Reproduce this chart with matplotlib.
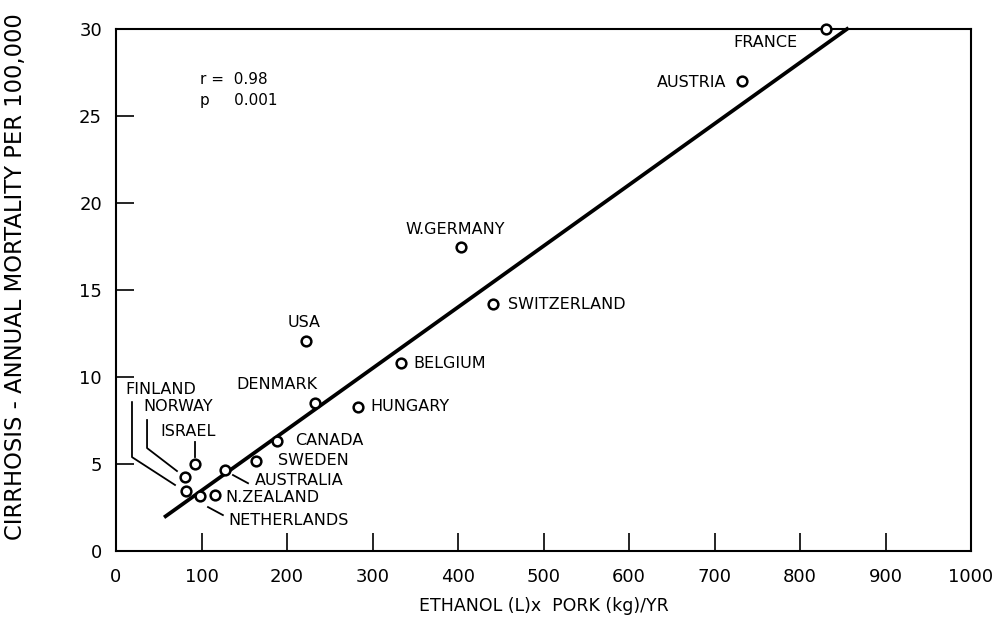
import numpy as np
import matplotlib
matplotlib.use('Agg')
import matplotlib.pyplot as plt

plt.rcParams['font.family'] = ['DejaVu Sans']

# Données
countries = ['FRANCE', 'AUSTRIA', 'W.GERMANY', 'SWITZERLAND', 'USA', 'BELGIUM',
             'DENMARK', 'HUNGARY', 'CANADA', 'SWEDEN', 'AUSTRALIA', 'ISRAEL',
             'NORWAY', 'FINLAND', 'NETHERLANDS', 'N.ZEALAND']
ethanol_pork = [830, 732, 403, 441, 222, 333, 233, 283, 188, 164, 127, 92,
                81, 82, 98, 116]
mortality = [30.0, 27.0, 17.5, 14.2, 12.1, 10.8, 8.5, 8.3, 6.3, 5.2, 4.65, 5.0,
             4.25, 3.45, 3.15, 3.2]

# Droite de régression
fit_x = [58, 855]
fit_y = [2.0, 30.0]

x_ticks = [0, 100, 200, 300, 400, 500, 600, 700, 800, 900, 1000]
y_ticks = [0, 5, 10, 15, 20, 25, 30]

# Position des étiquettes (coin gauche, centre vertical)
label_pos = {
    'FRANCE': (722, 29.25), 'AUSTRIA': (633, 26.95), 'W.GERMANY': (338, 18.5),
    'SWITZERLAND': (458, 14.15), 'USA': (201, 13.15), 'BELGIUM': (348, 10.8),
    'DENMARK': (141, 9.55), 'HUNGARY': (297, 8.28), 'CANADA': (210, 6.38),
    'SWEDEN': (189, 5.23), 'AUSTRALIA': (162, 4.08), 'N.ZEALAND': (128, 3.1),
    'NETHERLANDS': (131, 1.78), 'FINLAND': (11, 9.31), 'NORWAY': (32, 8.28),
    'ISRAEL': (52, 6.9),
}

# Traits de rappel
leaders = [
    ([18.7, 18.7, 69], [8.56, 5.4, 3.8]),
    ([36.3, 36.3, 71.3], [7.53, 5.92, 4.6]),
    ([92.4, 92.4], [6.26, 5.4]),
    ([136.8, 154.4], [4.37, 3.9]),
    ([107.6, 125], [2.53, 2.07]),
]

fig = plt.figure(figsize=(9.94, 6.22), dpi=100)
ax = fig.add_axes([0.1167, 0.114, 0.8602, 0.8394])

ax.plot(fit_x, fit_y, color='black', linewidth=2.7, clip_on=False, zorder=2)
ax.plot(ethanol_pork, mortality, linestyle='none', marker='o', markersize=7,
        markerfacecolor='white', markeredgecolor='black', markeredgewidth=1.8,
        clip_on=False, zorder=3)

for lx, ly in leaders:
    ax.plot(lx, ly, color='black', linewidth=1.3, zorder=1)

for name in countries:
    tx, ty = label_pos[name]
    ax.text(tx, ty, name, ha='left', va='center', fontsize=11.5)

ax.text(98, 27.07, 'r =  0.98', ha='left', va='center', fontsize=11)
ax.text(98, 25.9, 'p     0.001', ha='left', va='center', fontsize=11)

ax.set_xlim(0, 1000)
ax.set_ylim(0, 30)
ax.set_xticks(x_ticks)
ax.set_yticks(y_ticks)
ax.tick_params(axis='both', direction='in', length=13, width=1.2,
               labelsize=13)
ax.tick_params(axis='x', top=False, pad=12)
ax.tick_params(axis='y', right=False, pad=10)
for s in ax.spines.values():
    s.set_linewidth(1.5)

ax.set_xlabel('ETHANOL (L)x  PORK (kg)/YR', fontsize=12.5, labelpad=8)
ax.set_ylabel('CIRRHOSIS - ANNUAL MORTALITY PER 100,000', fontsize=16.3,
              va='center')
ax.yaxis.set_label_coords(-0.118, 0.525)

fig.savefig('out.png', dpi=100)
